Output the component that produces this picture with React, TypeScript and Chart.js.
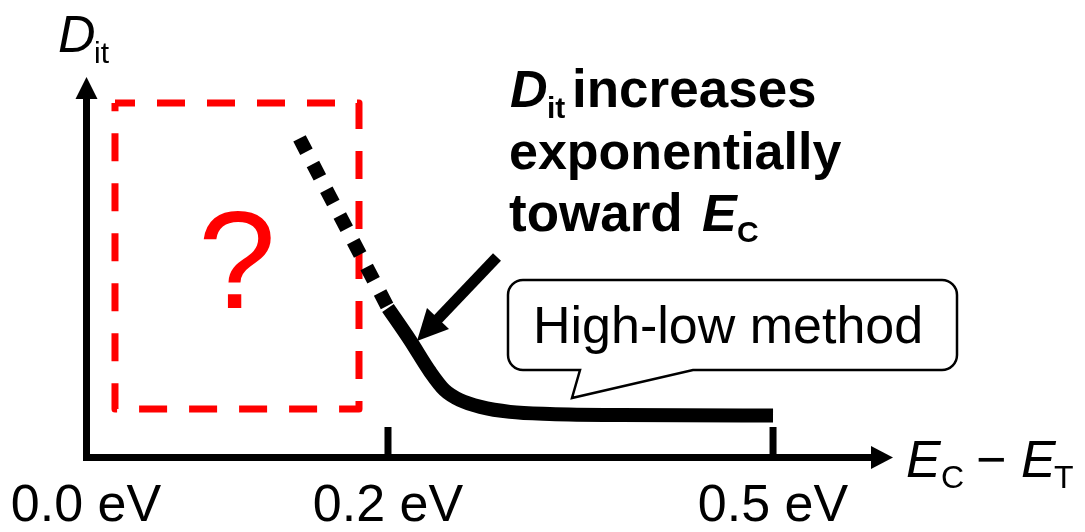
import React, { useEffect, useRef } from 'react';
import { Chart, LinearScale, registerables } from 'chart.js';

// ---- data ----
const X_TICKS = [0, 0.2, 0.5];
const X_TICK_LABELS = ['0.0 eV', '0.2 eV', '0.5 eV'];

// dotted extrapolation toward E_C (x: E_C - E_T in eV, y: Dit in a.u.)
const EXTRAP_X = [0.1414, 0.2];
const EXTRAP_Y = [8.9, 4.17];

// range covered by the high-low method
const HL_X = [0.2, 0.217, 0.233, 0.244, 0.256, 0.272, 0.295, 0.326, 0.381, 0.5];
const HL_Y = [4.16, 3.27, 2.37, 1.87, 1.59, 1.4, 1.26, 1.2, 1.17, 1.16];

// unknown region (dashed box), x range and y range
const UNKNOWN_X = [0.0192, 0.1808];
const UNKNOWN_Y = [1.34, 9.89];

// schematic (non-linear) axis: eV -> fraction of axis length
const WARP_EV = [0, 0.2, 0.5, 0.56];
const WARP_FRAC = [0, 0.3847, 0.8752, 1];

const FONT = "'Liberation Sans', Arial, Helvetica, sans-serif";

function interp(v: number, xs: number[], ys: number[]) {
  let i = 0;
  if (v <= xs[0]) i = 0;
  else if (v >= xs[xs.length - 1]) i = xs.length - 2;
  else while (i < xs.length - 2 && v > xs[i + 1]) i++;
  const t = (v - xs[i]) / (xs[i + 1] - xs[i]);
  return ys[i] + t * (ys[i + 1] - ys[i]);
}

class WarpScale extends LinearScale {
  static id = 'warp';
  static defaults = LinearScale.defaults;
  getPixelForValue(value: any) {
    if (value === null || value === undefined || isNaN(value)) return NaN;
    return this.getPixelForDecimal(interp(value, WARP_EV, WARP_FRAC));
  }
  getValueForPixel(pixel: number) {
    return interp(this.getDecimalForPixel(pixel), WARP_FRAC, WARP_EV);
  }
}

Chart.register(...registerables, WarpScale as any);

type Part = { t: string; f: string; x: number; dy?: number };

function drawParts(ctx: CanvasRenderingContext2D, y: number, parts: Part[]) {
  for (const p of parts) {
    ctx.font = `${p.f} ${FONT}`;
    ctx.fillText(p.t, p.x, y + (p.dy || 0));
  }
}

const schematicPlugin = {
  id: 'schematic',
  afterDraw(chart: any) {
    const ctx: CanvasRenderingContext2D = chart.ctx;
    const { left, top, right, bottom } = chart.chartArea;
    const xs = chart.scales.x;
    const ys = chart.scales.y;
    ctx.save();
    ctx.fillStyle = '#000';
    ctx.strokeStyle = '#000';

    // axis arrowheads
    const ax = left + 0.5;
    ctx.beginPath();
    ctx.moveTo(ax - 11, top);
    ctx.lineTo(ax + 11, top);
    ctx.lineTo(ax, top - 22);
    ctx.closePath();
    ctx.fill();
    const ay = bottom + 0.5;
    ctx.beginPath();
    ctx.moveTo(right, ay - 11.5);
    ctx.lineTo(right, ay + 11.5);
    ctx.lineTo(right + 22, ay);
    ctx.closePath();
    ctx.fill();

    // tick marks (inward)
    X_TICKS.forEach((v) => {
      if (v === 0) return;
      const px = xs.getPixelForValue(v);
      ctx.fillRect(px - 3.5, bottom - 30, 7, 30);
    });

    ctx.textAlign = 'left';
    ctx.textBaseline = 'alphabetic';

    // axis titles
    drawParts(ctx, 52, [
      { t: 'D', f: 'italic 52px', x: 58 },
      { t: 'it', f: '30px', x: 94, dy: 11 },
    ]);
    drawParts(ctx, 477, [
      { t: 'E', f: 'italic 52px', x: 906 },
      { t: 'C', f: '32px', x: 941, dy: 11 },
      { t: '\u2212', f: '52px', x: 976 },
      { t: 'E', f: 'italic 52px', x: 1021 },
      { t: 'T', f: '32px', x: 1054, dy: 11 },
    ]);

    // annotation text
    drawParts(ctx, 107, [
      { t: 'D', f: 'italic bold 52px', x: 510 },
      { t: 'it', f: 'bold 30px', x: 547, dy: 11 },
      { t: 'increases', f: 'bold 53px', x: 572 },
    ]);
    drawParts(ctx, 169, [{ t: 'exponentially', f: 'bold 52px', x: 509 }]);
    drawParts(ctx, 231, [
      { t: 'toward', f: 'bold 53px', x: 509 },
      { t: 'E', f: 'italic bold 52px', x: 702 },
      { t: 'C', f: 'bold 30px', x: 737, dy: 11 },
    ]);

    // arrow pointing at curve
    ctx.lineWidth = 11;
    ctx.lineCap = 'butt';
    ctx.beginPath();
    ctx.moveTo(497, 257);
    ctx.lineTo(437, 320);
    ctx.stroke();
    ctx.beginPath();
    ctx.moveTo(417, 341);
    ctx.lineTo(427, 308);
    ctx.lineTo(449, 329);
    ctx.closePath();
    ctx.fill();

    // callout bubble
    const bx0 = 508, bx1 = 957, by0 = 280, by1 = 370, r = 15;
    ctx.beginPath();
    ctx.moveTo(bx0 + r, by0);
    ctx.lineTo(bx1 - r, by0);
    ctx.arcTo(bx1, by0, bx1, by0 + r, r);
    ctx.lineTo(bx1, by1 - r);
    ctx.arcTo(bx1, by1, bx1 - r, by1, r);
    ctx.lineTo(693, by1);
    ctx.lineTo(572, 398);
    ctx.lineTo(580, by1);
    ctx.lineTo(bx0 + r, by1);
    ctx.arcTo(bx0, by1, bx0, by1 - r, r);
    ctx.lineTo(bx0, by0 + r);
    ctx.arcTo(bx0, by0, bx0 + r, by0, r);
    ctx.closePath();
    ctx.fillStyle = '#fff';
    ctx.fill();
    ctx.lineWidth = 2.5;
    ctx.lineJoin = 'miter';
    ctx.stroke();
    ctx.fillStyle = '#000';
    drawParts(ctx, 343, [{ t: 'High-low method', f: '52px', x: 533 }]);

    // question mark in the unknown region
    const qx = (xs.getPixelForValue(UNKNOWN_X[0]) + xs.getPixelForValue(UNKNOWN_X[1])) / 2;
    const qy = (ys.getPixelForValue(UNKNOWN_Y[0]) + ys.getPixelForValue(UNKNOWN_Y[1])) / 2;
    ctx.fillStyle = '#ff0000';
    ctx.textAlign = 'center';
    ctx.font = `140px ${FONT}`;
    ctx.fillText('?', qx, qy + 52);

    ctx.restore();
  },
};

export default function App() {
  const ref = useRef<HTMLCanvasElement | null>(null);
  useEffect(() => {
    if (!ref.current) return;
    const boxData = [
      { x: UNKNOWN_X[0], y: UNKNOWN_Y[1] },
      { x: UNKNOWN_X[1], y: UNKNOWN_Y[1] },
      { x: UNKNOWN_X[1], y: UNKNOWN_Y[0] },
      { x: UNKNOWN_X[0], y: UNKNOWN_Y[0] },
      { x: UNKNOWN_X[0], y: UNKNOWN_Y[1] },
    ];
    const chart = new Chart(ref.current, {
      type: 'line',
      data: {
        datasets: [
          {
            label: 'High-low method',
            data: HL_X.map((x, i) => ({ x, y: HL_Y[i] })),
            borderColor: '#000',
            borderWidth: 14,
            borderCapStyle: 'butt',
            cubicInterpolationMode: 'monotone',
            pointRadius: 0,
            fill: false,
            clip: false,
          },
          {
            label: 'Extrapolation',
            data: EXTRAP_X.map((x, i) => ({ x, y: EXTRAP_Y[i] })),
            borderColor: '#000',
            borderWidth: 14,
            borderDash: [15, 14],
            borderCapStyle: 'butt',
            pointRadius: 0,
            fill: false,
            clip: false,
          },
          {
            label: 'Unknown',
            data: boxData,
            borderColor: '#ff0000',
            borderWidth: 7,
            borderDash: [28, 22],
            borderDashOffset: 8,
            borderCapStyle: 'butt',
            borderJoinStyle: 'round',
            tension: 0,
            pointRadius: 0,
            fill: false,
            clip: false,
          },
        ],
      } as any,
      options: {
        animation: false,
        responsive: true,
        maintainAspectRatio: false,
        layout: { padding: { left: 86, right: 214, top: 99, bottom: 0 } },
        plugins: { legend: { display: false }, tooltip: { enabled: false } },
        scales: {
          x: {
            type: 'warp' as any,
            min: 0,
            max: 0.56,
            afterBuildTicks: (s: any) => {
              s.ticks = X_TICKS.map((v) => ({ value: v }));
            },
            afterFit: (s: any) => {
              s.height = 75;
              s.paddingLeft = 0;
              s.paddingRight = 0;
            },
            grid: { display: true, drawOnChartArea: false, drawTicks: false },
            border: { display: true, width: 7, color: '#000' },
            ticks: {
              autoSkip: false,
              maxRotation: 0,
              padding: 24,
              color: '#000',
              font: { family: FONT, size: 52, lineHeight: 1 },
              callback: (_v: any, i: number) => X_TICK_LABELS[i],
            },
          },
          y: {
            type: 'linear',
            min: 0,
            max: 10,
            afterFit: (s: any) => {
              s.width = 0;
              s.paddingTop = 0;
              s.paddingBottom = 0;
            },
            grid: { display: true, drawOnChartArea: false, drawTicks: false },
            border: { display: true, width: 7, color: '#000' },
            ticks: { display: false },
          },
        },
      } as any,
      plugins: [schematicPlugin],
    });
    return () => chart.destroy();
  }, []);
  return (
    <div style={{ position: 'absolute', left: 0, top: 0, width: 1085, height: 532, background: '#fff' }}>
      <canvas ref={ref} />
    </div>
  );
}
